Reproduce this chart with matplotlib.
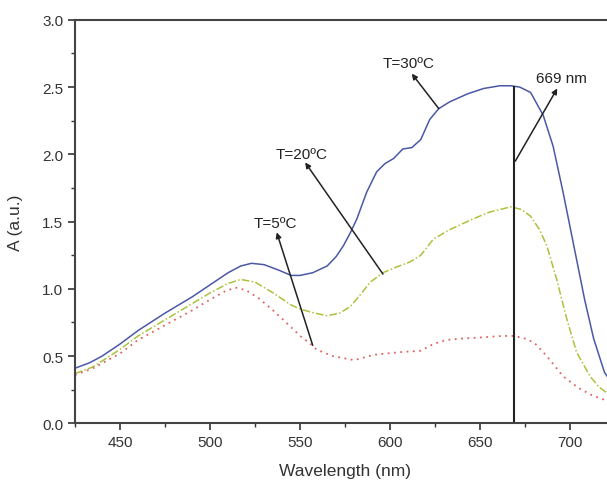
import matplotlib
matplotlib.use("Agg")
import matplotlib.pyplot as plt
from matplotlib.ticker import MultipleLocator, FormatStrFormatter

plt.rcParams['font.family'] = ['Liberation Sans', 'DejaVu Sans']

# spectra
wl_30 = [425, 433, 440, 450, 460, 475, 490, 500, 510, 517, 523, 530, 538, 545,
         550, 557, 565, 570, 574, 578, 581.5, 587, 592.5, 597, 602, 607, 612,
         617, 622, 627, 633, 643, 652, 661, 667, 672, 678, 685, 690.5, 696,
         702, 708, 713, 719, 725]
a_30 = [0.41, 0.45, 0.50, 0.59, 0.69, 0.82, 0.94, 1.03, 1.12, 1.17, 1.19, 1.18,
        1.14, 1.10, 1.10, 1.12, 1.17, 1.24, 1.32, 1.42, 1.52, 1.72, 1.87, 1.93,
        1.97, 2.04, 2.05, 2.11, 2.26, 2.34, 2.39, 2.45, 2.49, 2.51, 2.51, 2.50,
        2.46, 2.29, 2.06, 1.72, 1.32, 0.92, 0.63, 0.38, 0.26]

wl_20 = [425, 435, 450, 460, 475, 490, 500, 510, 517, 525, 535, 545, 550, 558,
         565, 572, 578, 583, 589, 596, 603, 611, 617, 624, 633, 646, 655, 661,
         667, 673, 678, 683, 687, 692.5, 698, 703.5, 711, 716, 720, 725]
a_20 = [0.37, 0.42, 0.55, 0.65, 0.77, 0.89, 0.97, 1.04, 1.07, 1.05, 0.97, 0.88,
        0.85, 0.82, 0.80, 0.82, 0.87, 0.95, 1.05, 1.12, 1.16, 1.20, 1.25, 1.37,
        1.44, 1.52, 1.57, 1.59, 1.61, 1.59, 1.54, 1.44, 1.32, 1.07, 0.78, 0.53,
        0.35, 0.27, 0.23, 0.19]

wl_5 = [425, 435, 450, 460, 475, 490, 500, 508, 514, 520, 527, 535, 543, 550,
        555, 559, 568, 580, 591, 606, 617, 624, 631, 639, 652, 662, 669, 675,
        680, 687, 696, 705, 712, 720, 725]
a_5 = [0.36, 0.41, 0.52, 0.62, 0.73, 0.84, 0.92, 0.98, 1.01, 0.99, 0.93, 0.84,
       0.74, 0.65, 0.60, 0.55, 0.50, 0.47, 0.51, 0.53, 0.54, 0.59, 0.62, 0.63,
       0.64, 0.65, 0.65, 0.63, 0.60, 0.50, 0.35, 0.26, 0.21, 0.17, 0.15]

peak_nm = 669
peak_a = 2.50

fig = plt.figure(figsize=(6.07, 4.85), dpi=100)
ax = fig.add_axes([0.1236, 0.125, 0.89, 0.832])

ax.plot(wl_30, a_30, color='#4a58a6', lw=1.1)
ax.plot(wl_20, a_20, color='#a9c43c', lw=1.1, ls=(0, (5, 1.5, 1, 1.5)))
ax.plot(wl_5, a_5, color='#e06262', lw=1.3, ls=(0, (1, 2.5)))
ax.plot([peak_nm, peak_nm], [0, peak_a], color='#222222', lw=1.5)

ax.set_xlim(425, 725)
ax.set_ylim(0, 3.0)
ax.xaxis.set_major_locator(MultipleLocator(50))
ax.xaxis.set_minor_locator(MultipleLocator(25))
ax.yaxis.set_major_locator(MultipleLocator(0.5))
ax.yaxis.set_minor_locator(MultipleLocator(0.25))
ax.yaxis.set_major_formatter(FormatStrFormatter('%.1f'))
ax.tick_params(which='major', direction='out', length=5, width=1.2,
               labelsize=11, colors='#333333')
ax.tick_params(which='minor', direction='out', length=3, width=1.0,
               colors='#333333')
for s in ax.spines.values():
    s.set_linewidth(1.5)
    s.set_color('#444444')

ax.set_xlabel('Wavelength (nm)', fontsize=12.5, color='#333333', labelpad=10)
ax.set_ylabel('A (a.u.)', fontsize=12.5, color='#333333', labelpad=14)

arrow = dict(arrowstyle='-|>', color='#222222', lw=1.1, mutation_scale=8,
             shrinkA=0, shrinkB=0)
ax.annotate('', xy=(612, 2.60), xytext=(627, 2.34), arrowprops=arrow)
ax.text(610.5, 2.68, 'T=30ºC', ha='center', va='center', fontsize=11,
        color='#222222')
ax.annotate('', xy=(692.8, 2.49), xytext=(669.5, 1.95), arrowprops=arrow)
ax.text(695, 2.57, '669 nm', ha='center', va='center', fontsize=11,
        color='#222222')
ax.annotate('', xy=(552.8, 1.94), xytext=(596, 1.11), arrowprops=arrow)
ax.text(550.6, 2.00, 'T=20ºC', ha='center', va='center', fontsize=11,
        color='#222222')
ax.annotate('', xy=(537, 1.42), xytext=(557, 0.58), arrowprops=arrow)
ax.text(536, 1.49, 'T=5ºC', ha='center', va='center', fontsize=11,
        color='#222222')

fig.savefig('out.png', dpi=100)
